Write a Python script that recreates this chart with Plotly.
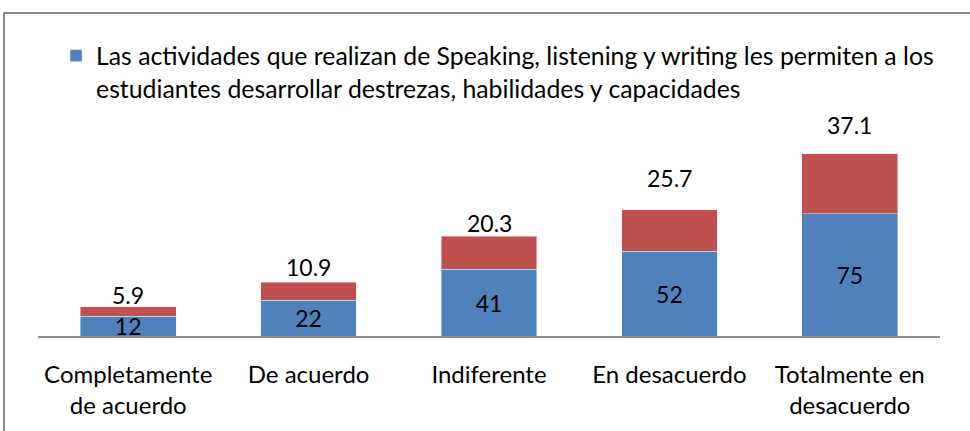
import plotly.graph_objects as go

categories = ["Completamente<br>de acuerdo", "De acuerdo", "Indiferente", "En desacuerdo", "Totalmente en<br>desacuerdo"]
counts = [12, 22, 41, 52, 75]
percents = [5.9, 10.9, 20.3, 25.7, 37.1]
legend_name = ("Las actividades que realizan de Speaking, listening y writing les permiten a los<br>"
               "estudiantes desarrollar destrezas, habilidades y capacidades")

FONT = "Lato"
BLUE = "#4F81BD"
RED = "#C0504D"

fig = go.Figure()
fig.add_bar(x=categories, y=counts, name=legend_name, marker_color=BLUE,
            text=[str(v) for v in counts], textposition="inside", insidetextanchor="middle",
            textfont=dict(family=FONT, size=23, color="black"), textangle=0)
fig.add_bar(x=categories, y=percents, name="%", marker_color=RED, showlegend=False)

label_shift = [12, 15, 13, 32, 29]
for c, b, p, s in zip(categories, counts, percents, label_shift):
    fig.add_annotation(x=c, y=b + p, text=f"{p}", showarrow=False, yanchor="middle",
                       yshift=s, font=dict(family=FONT, size=23, color="black"))

L, R, T, B = 38, 30, 100, 95
W, H = 970, 431
pw, ph = W - L - R, H - T - B
fig.add_shape(type="rect", xref="paper", yref="paper",
              x0=(4 - L) / pw, x1=(W + 10 - L) / pw,
              y0=-(B + 20) / ph, y1=(H - B - 13) / ph,
              line=dict(color="#8c8c8c", width=2), fillcolor="rgba(0,0,0,0)", layer="below")

fig.update_layout(
    width=W, height=H, margin=dict(l=L, r=R, t=T, b=B),
    paper_bgcolor="white", plot_bgcolor="white",
    barmode="stack", bargap=0.47,
    font=dict(family=FONT, size=23, color="black"),
    uniformtext=dict(minsize=23, mode="show"),
    showlegend=True,
    legend=dict(x=0.02, xanchor="left", y=(H - B - 33) / ph, yanchor="top",
                valign="top", bgcolor="rgba(0,0,0,0)",
                font=dict(family=FONT, size=24.8, color="black")),
    xaxis=dict(showline=True, linecolor="#8c8c8c", linewidth=2, ticks="",
               ticklabelstandoff=16, tickfont=dict(family=FONT, size=24, color="black"),
               showgrid=False, fixedrange=True),
    yaxis=dict(visible=False, range=[0, 145], showgrid=False, zeroline=False, fixedrange=True),
)

fig.write_html("out.html", config={"displayModeBar": False, "staticPlot": True},
               post_script="document.body.style.margin='0';document.body.style.overflow='hidden';")
